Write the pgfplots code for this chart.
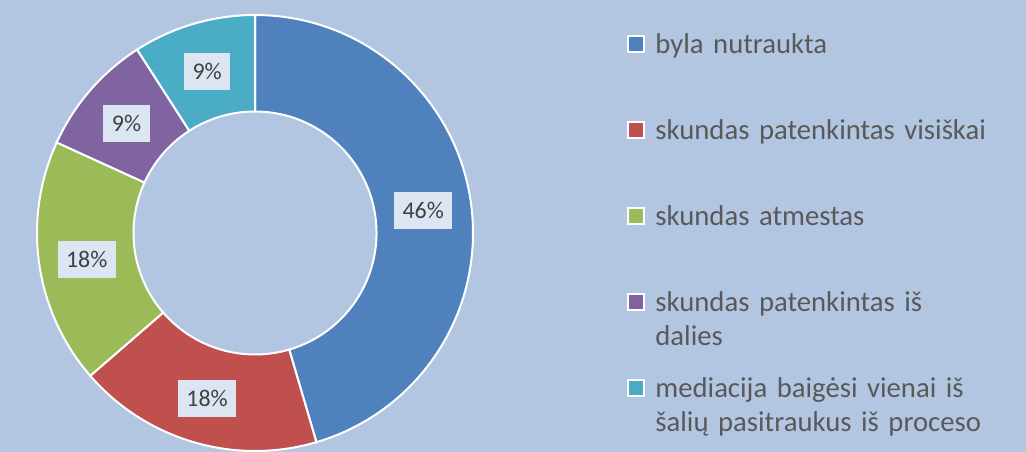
\documentclass[border=0pt]{standalone}
\usepackage{pgfplots}
\pgfplotsset{compat=1.18}
\usepackage{fontspec}
\setmainfont{Carlito}

\definecolor{bgcol}{RGB}{178,198,226}
\definecolor{lblbg}{RGB}{220,230,242}
\definecolor{lbltext}{RGB}{64,64,64}
\definecolor{legtext}{RGB}{89,89,89}
\definecolor{c1}{HTML}{4F81BD}
\definecolor{c2}{HTML}{C0504D}
\definecolor{c3}{HTML}{9BBB59}
\definecolor{c4}{HTML}{8064A2}
\definecolor{c5}{HTML}{4BACC6}

\tikzset{lbl/.style={fill=lblbg, text=lbltext, inner xsep=4.25bp, inner ysep=0pt,
    minimum height=18.5bp, font=\fontsize{12}{14}\selectfont}}

\begin{document}
\begin{tikzpicture}
\fill[bgcol] (0,0) rectangle (513bp,226bp);
\begin{axis}[
    width=513bp, height=226bp, scale only axis,
    xmin=0, xmax=1026, ymin=0, ymax=452,
    hide axis, clip=false,
    legend image code/.code={\draw[#1,draw=white,line width=1bp] (0.5bp,0.5bp) rectangle (8.5bp,8.5bp);},
    legend style={at={(axis cs:627,421)}, anchor=north west,
        draw=none, fill=none, inner sep=0pt, row sep=0pt, column sep=5bp,
        font=\fontsize{14.4}{17}\selectfont, text=legtext,
        nodes={inner sep=0pt, text height=11bp, text depth=32bp, text width=180bp, align=left},
        cells={anchor=base west}},
]
\addlegendimage{fill=c1}
\addlegendimage{fill=c2}
\addlegendimage{fill=c3}
\addlegendimage{fill=c4}
\addlegendimage{fill=c5}

% cases per outcome (11 in all), label shown, colour; clockwise from the top
\foreach \v/\p/\col [remember=\ea as \sa (initially 90)] in {5/46/c1,2/18/c2,2/18/c3,1/9/c4,1/9/c5}{
  \pgfmathsetmacro\ea{\sa-360/11*\v}
  \pgfmathsetmacro\ma{(\sa+\ea)/2}
  \edef\tmp{\noexpand\fill[\col,draw=white,line width=1bp] (axis cs:255,219) ++(\sa:109bp)
      arc[start angle=\sa,end angle=\ea,radius=109bp] -- ++(\ea:-48.25bp)
      arc[start angle=\ea,end angle=\sa,radius=60.75bp] -- cycle;
    \noexpand\path (axis cs:255,219) ++(\ma:85bp) ++(0,-1bp) node[lbl]{\p\noexpand\%};}
  \tmp
}

\legend{byla nutraukta, skundas patenkintas visiškai, skundas atmestas,
  {skundas patenkintas iš\\dalies}, {mediacija baigėsi vienai iš\\šalių pasitraukus iš proceso}}
\end{axis}
\pgfresetboundingbox
\useasboundingbox (0,0) rectangle (513bp,226bp);
\end{tikzpicture}
\end{document}
